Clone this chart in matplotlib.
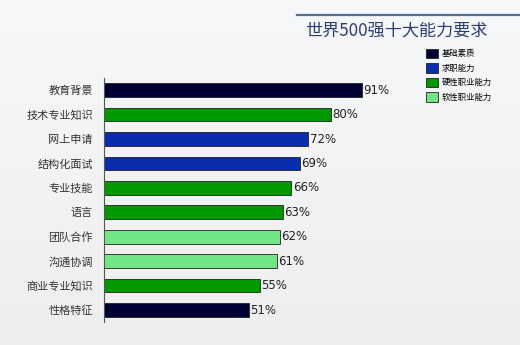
import numpy as np
import matplotlib.pyplot as plt
from matplotlib.patches import Patch
import matplotlib.lines as mlines

plt.rcParams['font.family'] = ['Noto Sans CJK SC', 'DejaVu Sans']

categories = ['教育背景', '技术专业知识', '网上申请', '结构化面试', '专业技能',
              '语言', '团队合作', '沟通协调', '商业专业知识', '性格特征']
values = [91, 80, 72, 69, 66, 63, 62, 61, 55, 51]
groups = ['基础素质', '硬性职业能力', '求职能力', '求职能力', '硬性职业能力',
          '硬性职业能力', '软性职业能力', '软性职业能力', '硬性职业能力', '基础素质']
group_names = ['基础素质', '求职能力', '硬性职业能力', '软性职业能力']
group_colors = {'基础素质': '#000033', '求职能力': '#0a2db0',
                '硬性职业能力': '#009a00', '软性职业能力': '#72e686'}

fig = plt.figure(figsize=(5.2, 3.45), dpi=100)
# light gradient background
bg = fig.add_axes([0, 0, 1, 1], zorder=-10)
grad = np.linspace(0, 1, 256).reshape(-1, 1)
bg.imshow(grad, aspect='auto', cmap=plt.matplotlib.colors.LinearSegmentedColormap.from_list(
    'bg', ['#f7f8fa', '#eeeeee']), extent=[0, 1, 0, 1])
bg.axis('off')

ax = fig.add_axes([0.2, 0.066, 0.545, 0.708])
ax.patch.set_alpha(0)
y = np.arange(len(categories))
colors = [group_colors[g] for g in groups]
ax.barh(y, values, height=0.56, color=colors, edgecolor='#222222', linewidth=0.6)
for yi, v in zip(y, values):
    ax.text(v + 0.6, yi, f'{v}%', va='center', ha='left', fontsize=8.5,
            family='DejaVu Sans', color='#222222')
ax.set_yticks(y)
ax.set_yticklabels(categories, fontsize=8, color='#333333')
ax.set_ylim(len(categories) - 0.5, -0.5)
ax.set_xlim(0, 100)
ax.set_xticks([])
ax.tick_params(axis='y', length=0, pad=8)
for s in ['top', 'right', 'bottom']:
    ax.spines[s].set_visible(False)
ax.spines['left'].set_color('#555555')
ax.spines['left'].set_linewidth(0.8)

# title line and title
fig.add_artist(mlines.Line2D([297 / 520, 1.0], [1 - 15 / 345, 1 - 15 / 345],
                             color='#5b7091', linewidth=1.6))
fig.text(396 / 520, 1 - 31 / 345, '世界500强十大能力要求', ha='center', va='center',
         fontsize=12.3, color='#2a3f7a')

handles = [Patch(facecolor=group_colors[g], edgecolor='#222222', linewidth=0.6, label=g)
           for g in group_names]
fig.legend(handles=handles, loc='upper left', bbox_to_anchor=(418 / 520, 1 - 41 / 345),
           frameon=False, fontsize=6, handlelength=1.5, handleheight=1.4,
           labelspacing=0.6, handletextpad=0.5)

fig.savefig('out.png', dpi=100)
